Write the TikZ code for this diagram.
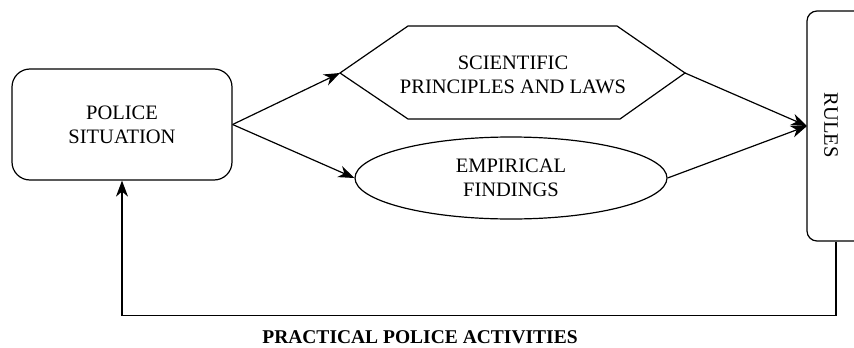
\documentclass[tikz,border=0pt]{standalone}
\usepackage{fontspec}
\setmainfont{Liberation Serif}
\usetikzlibrary{shapes.geometric,arrows.meta}
\begin{document}
\begin{tikzpicture}[x=1pt,y=-1pt,
  every node/.style={font=\fontsize{20.5}{24}\selectfont, align=center},
  line/.style={line width=1.2pt, black},
  arr/.style={line, -{Stealth[length=16pt,width=12pt,inset=5pt]}},
  boxr/.style={draw, line width=1.2pt, rounded corners=18pt, inner sep=0pt},
]
\useasboundingbox (0,0) rectangle (854,348);
\clip (0,0) rectangle (854,348);
% police situation
\node[boxr, minimum width=220pt, minimum height=111pt] (police) at (122,124.5) {POLICE\\SITUATION};
% hexagon
\coordinate (hexL) at (340,73);
\coordinate (hexR) at (685,73);
\draw[line] (hexL) -- (408,26) -- (617,26) -- (hexR) -- (620,119) -- (408,119) -- cycle;
\node (sci) at (513,74.5) {SCIENTIFIC\\PRINCIPLES AND LAWS};
% ellipse
\node[draw, ellipse, line width=1.2pt, minimum width=312pt, minimum height=82pt, inner sep=0pt] (emp) at (511,178) {EMPIRICAL\\FINDINGS};
% rules
\node[draw, line width=1.2pt, rounded corners=10pt, minimum width=58pt, minimum height=230pt, inner sep=0pt] (rules) at (836,126) {};
\node[rotate=-90] (rulestext) at (831,125) {RULES};
\coordinate (tip) at (807,126);
% arrows
\draw[arr] (police.east) -- (hexL);
\draw[arr] (police.east) -- (emp.west);
\draw[arr] (hexR) -- (tip);
\draw[arr] (emp.east) -- (tip);
\draw[arr] (rules.south) -- ++(0,74) coordinate (corner) -| (police.south);
\node[font=\fontsize{19.5}{22}\selectfont\bfseries] (lbl) at (420,337) {PRACTICAL POLICE ACTIVITIES};
\end{tikzpicture}
\end{document}
